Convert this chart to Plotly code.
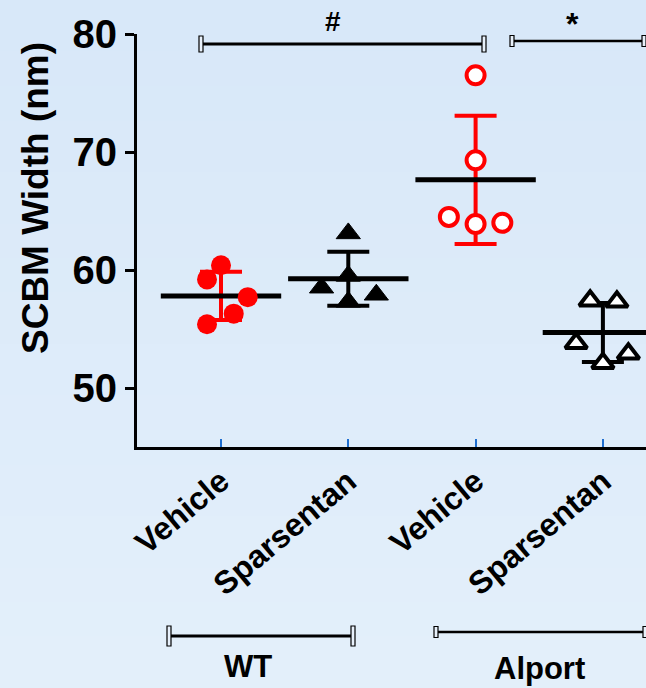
import numpy as np
import plotly.graph_objects as go

# ---- data -------------------------------------------------------------
tick_labels = ["Vehicle", "Sparsentan", "Vehicle", "Sparsentan"]
group_pos = [0, 1, 2, 3]

wt_vehicle = [60.4, 59.2, 57.7, 56.3, 55.4]
wt_sparsentan = [63.1, 58.5, 59.5, 57.3, 57.9]
alport_vehicle = [76.5, 69.3, 64.5, 63.9, 64.0]
alport_sparsentan = [57.4, 57.3, 53.8, 52.1, 52.9]

# horizontal jitter of the individual animals within each column
jitter = [
    [0.0, -0.11, 0.21, 0.10, -0.11],
    [0.0, -0.21, 0.0, 0.0, 0.22],
    [0.0, 0.0, -0.21, 0.0, 0.21],
    [-0.10, 0.11, -0.21, 0.0, 0.20],
]

series = [wt_vehicle, wt_sparsentan, alport_vehicle, alport_sparsentan]

# ---- figure geometry (pixels) ------------------------------------------
W, H = 646, 688
L, R, T, B = 137, 646, 34, 447  # plot area edges
FONT = "Liberation Sans, Arial, sans-serif"
RED = "#ff0000"
BLACK = "#000000"


def xp(px):
    return (px - L) / (R - L)


def yp(py):
    return (B - py) / (B - T)


fig = go.Figure()

# mean line + SD error bars
err_colors = [RED, BLACK, RED, BLACK]
for pos, vals, col in zip(group_pos, series, err_colors):
    arr = np.array(vals)
    fig.add_trace(go.Scatter(
        x=[pos], y=[arr.mean()], mode="markers",
        marker=dict(symbol="line-ew", size=86,
                    line=dict(color=BLACK, width=5)),
        error_y=dict(type="data", array=[arr.std(ddof=1)], color=col,
                     thickness=4, width=21),
        showlegend=False, hoverinfo="skip", cliponaxis=False,
    ))

# individual points
styles = [
    dict(symbol="circle", size=20, color=RED, line=dict(color=RED, width=0)),
    dict(symbol="triangle-up", size=21, color=BLACK, line=dict(color=BLACK, width=1)),
    dict(symbol="circle", size=18, color="white", line=dict(color=RED, width=4)),
    dict(symbol="triangle-up", size=19, color="white", line=dict(color=BLACK, width=4)),
]
for pos, vals, jit, st in zip(group_pos, series, jitter, styles):
    fig.add_trace(go.Scatter(
        x=[pos + j for j in jit], y=vals, mode="markers",
        marker=st, showlegend=False, cliponaxis=False,
    ))

# ---- background gradient ----------------------------------------------
shapes = []
top_c = np.array([0xD8, 0xE8, 0xF9])
bot_c = np.array([0xE4, 0xF0, 0xFB])
n_bands = 40
for i in range(n_bands):
    y0 = H * i / n_bands
    y1 = H * (i + 1) / n_bands + 1
    c = top_c + (bot_c - top_c) * (i + 0.5) / n_bands
    shapes.append(dict(
        type="rect", xref="paper", yref="paper", layer="below",
        x0=xp(0), x1=xp(W), y0=yp(y1), y1=yp(y0),
        fillcolor="rgb(%d,%d,%d)" % tuple(c.astype(int)), line=dict(width=0),
    ))


def bracket(x0, x1, y, cap_h, lw):
    out = [dict(type="line", xref="paper", yref="paper",
                x0=xp(x0), x1=xp(x1), y0=yp(y), y1=yp(y),
                line=dict(color=BLACK, width=lw))]
    for xc in (x0, x1):
        out.append(dict(type="rect", xref="paper", yref="paper",
                        x0=xp(xc - 2), x1=xp(xc + 2),
                        y0=yp(y + cap_h / 2), y1=yp(y - cap_h / 2),
                        fillcolor="#e8f1fb", line=dict(color=BLACK, width=1.2)))
    return out


shapes += bracket(201, 484, 44, 16, 3)
shapes += bracket(512, 644, 41, 11, 2.5)
shapes += bracket(169, 353, 636, 20, 3)
shapes += bracket(436, 645, 632, 11, 2.5)


def label(text, px, py, size, angle=0):
    return dict(text=text, x=xp(px), y=yp(py), xref="paper", yref="paper",
                xanchor="center", yanchor="middle", showarrow=False,
                textangle=angle,
                font=dict(family=FONT, size=size, color=BLACK, weight="bold"))


annotations = [
    label("#", 333, 22, 28),
    label("*", 572, 24, 32),
    label("WT", 248, 666, 31),
    label("Alport", 539, 669, 31),
    label("SCBM Width (nm)", 35, 198, 37, angle=-90),
]

fig.update_layout(
    width=W, height=H,
    margin=dict(l=L, r=W - R, t=T, b=H - B, pad=0),
    paper_bgcolor="#deebf9", plot_bgcolor="rgba(0,0,0,0)",
    shapes=shapes, annotations=annotations,
    font=dict(family=FONT, color=BLACK),
)

x_lo = (L - 221) / 127.3
x_hi = (R - 221) / 127.3
fig.update_xaxes(
    range=[x_lo, x_hi], tickmode="array", tickvals=group_pos, ticktext=tick_labels,
    tickangle=-40, tickfont=dict(family=FONT, size=32, color=BLACK, weight="bold"),
    showline=True, linecolor=BLACK, linewidth=3, ticks="inside", ticklen=8,
    tickwidth=2, tickcolor="#1f6fd0", showgrid=False, zeroline=False,
    automargin=False,
)
fig.update_yaxes(
    range=[45, 80], tickmode="array", tickvals=[50, 60, 70, 80],
    tickfont=dict(family=FONT, size=40, color=BLACK, weight="bold"),
    showline=True, linecolor=BLACK, linewidth=3, ticks="outside", ticklen=9,
    tickwidth=3, tickcolor=BLACK, showgrid=False, zeroline=False,
    automargin=False,
)

fig.write_html("out.html")
